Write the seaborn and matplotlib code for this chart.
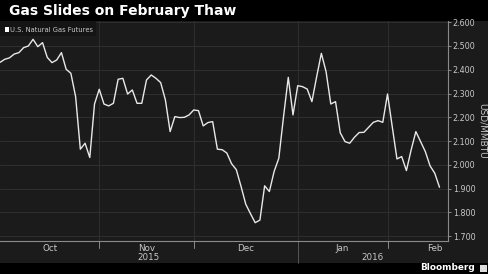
import matplotlib
matplotlib.use("Agg")
import matplotlib.pyplot as plt
import matplotlib.patches as mpatches
import seaborn as sns
import pandas as pd

# ---- data -------------------------------------------------------------
title = "Gas Slides on February Thaw"
series_name = "U.S. Natural Gas Futures"
y_label = "USD/MMBTU"
source = "Bloomberg"

holidays = ["2015-11-26", "2015-12-25", "2016-01-01", "2016-01-18", "2016-02-15"]
start_date = "2015-10-01"
end_date = "2016-02-16"

price = [
    2.431, 2.444, 2.450, 2.466, 2.472, 2.493, 2.500, 2.528, 2.497, 2.514,
    2.452, 2.430, 2.441, 2.472, 2.402, 2.385, 2.287, 2.066, 2.091, 2.031,
    2.256, 2.318, 2.256, 2.248, 2.259, 2.360, 2.364, 2.298, 2.315, 2.259,
    2.259, 2.357, 2.378, 2.364, 2.346, 2.273, 2.140, 2.203, 2.199, 2.200,
    2.210, 2.231, 2.228, 2.164, 2.178, 2.182, 2.066, 2.064, 2.050, 2.005,
    1.980, 1.910, 1.835, 1.795, 1.757, 1.768, 1.912, 1.888, 1.972, 2.028,
    2.203, 2.368, 2.210, 2.333, 2.329, 2.319, 2.266, 2.370, 2.469, 2.392,
    2.256, 2.266, 2.135, 2.098, 2.091, 2.116, 2.136, 2.137, 2.158, 2.179,
    2.186, 2.179, 2.298, 2.161, 2.025, 2.035, 1.976, 2.063, 2.140, 2.098,
    2.056, 1.996, 1.965, 1.906,
]
y_ticks = [1.7, 1.8, 1.9, 2.0, 2.1, 2.2, 2.3, 2.4, 2.5, 2.6]

# ---- build frame --------------------------------------------------------
dates = pd.bdate_range(start_date, end_date, freq="C", holidays=holidays)
n = min(len(dates), len(price))
df = pd.DataFrame({"date": dates[:n], "price": price[:n]})
df["pos"] = range(n)

# month boundaries (last trading day of each month) and label centres
full_days = pd.bdate_range("2015-10-01", "2016-02-29", freq="C", holidays=holidays)
month_key = full_days.to_period("M")
months = list(dict.fromkeys(month_key))
month_last = {m: max(i for i, k in enumerate(month_key) if k == m) for m in months}
month_first = {m: min(i for i, k in enumerate(month_key) if k == m) for m in months}

XMAX = 94.8
YMIN, YMAX = 1.68, 2.605

BG = "#1b1b1b"
GRID = "#2f2f2f"
TXT = "#c8c8c8"

sns.set_theme(style="dark")
plt.rcParams["font.family"] = ["DejaVu Sans"]

fig = plt.figure(figsize=(4.88, 2.74), dpi=100, facecolor="black")
W, H = 488, 274
# grey chart panel
fig.patches.append(mpatches.Rectangle((0, (H - 262.5) / H), 1, (262.5 - 21) / H,
                                      transform=fig.transFigure, facecolor=BG,
                                      edgecolor="none", zorder=-10))

ax = fig.add_axes([0, (H - 241) / H, 448 / W, (241 - 21) / H])
ax.set_zorder(1)
ax.set_facecolor(BG)

sns.lineplot(data=df, x="pos", y="price", ax=ax, color="#e8e8e8", linewidth=1.0,
             legend=False)

ax.set_xlim(0, XMAX)
ax.set_ylim(YMIN, YMAX)

# horizontal grid
ax.set_yticks(y_ticks)
ax.set_yticklabels([f"{v:.3f}" for v in y_ticks])
ax.grid(False)
for v in y_ticks:
    ax.axhline(v, color=GRID, lw=0.7, zorder=0)

# month boundaries
bounds = [month_last[m] for m in months[:-1]]
for b in bounds:
    ax.axvline(b, color=GRID, lw=0.7, zorder=0)

ax.yaxis.tick_right()
ax.yaxis.set_label_position("right")
ax.tick_params(axis="y", which="both", right=True, left=False, length=2.5,
               width=0.6, color="#9a9a9a", pad=1, labelsize=5.8, labelcolor=TXT)

# x ticks: month labels centred in months
centres = []
prev = -1
for m in months:
    last = month_last[m]
    centres.append((prev + last) / 2 if m != months[0] else (month_first[m] + last) / 2)
    prev = last
ax.set_xticks(centres)
ax.set_xticklabels([m.strftime("%b") for m in months])
ax.tick_params(axis="x", length=0, pad=2.5, labelsize=6.3, labelcolor=TXT)
ax.set_xlabel("")
ax.set_ylabel("")

for s in ["top", "left"]:
    ax.spines[s].set_visible(False)
for s in ["right", "bottom"]:
    ax.spines[s].set_visible(True)
    ax.spines[s].set_color("#8a8a8a")
    ax.spines[s].set_linewidth(0.8)

# small boundary ticks below axis
for b in bounds:
    ax.plot([b, b], [0, -0.03], transform=ax.get_xaxis_transform(), color="#8a8a8a",
            lw=0.7, clip_on=False)

# year labels and separator
years = sorted(set(m.year for m in months))
year_sep = month_last[[m for m in months if m.year == years[0]][-1]]
ax.plot([year_sep, year_sep], [0, -0.1], transform=ax.get_xaxis_transform(),
        color="#555555", lw=0.7, clip_on=False)
ax.text((0 + year_sep) / 2, -0.075, str(years[0]), transform=ax.get_xaxis_transform(),
        ha="center", va="center", fontsize=6.3, color=TXT)
ax.text((year_sep + XMAX) / 2, -0.075, str(years[1]), transform=ax.get_xaxis_transform(),
        ha="center", va="center", fontsize=6.3, color=TXT)

# y label
fig.text(482 / W, 1 - 131 / H, y_label, rotation=270, ha="center", va="center",
         fontsize=6.5, color=TXT)

# legend box
fig.patches.append(mpatches.Rectangle((0, 1 - 35.5 / H), 96 / W, 14.5 / H,
                                      transform=fig.transFigure, facecolor="#141414",
                                      edgecolor="none", zorder=5))
fig.patches.append(mpatches.Rectangle((4.7 / W, 1 - 32 / H), 4.3 / W, 4.6 / H,
                                      transform=fig.transFigure, facecolor="white",
                                      edgecolor="none", zorder=6))
fig.text(10.5 / W, 1 - 29.5 / H, series_name, ha="left", va="center", fontsize=4.9,
         color=TXT, zorder=7)

# title
fig.text(9 / W, 1 - 11.5 / H, title, ha="left", va="center", fontsize=10,
         fontweight="bold", color="white")

# source
fig.text(475 / W, 1 - 268 / H, source, ha="right", va="center", fontsize=6.4,
         fontweight="bold", color="white")
fig.patches.append(mpatches.Rectangle((480 / W, 1 - 272 / H), 7 / W, 7 / H,
                                      transform=fig.transFigure, facecolor="#dddddd",
                                      edgecolor="none"))

fig.savefig("out.png", dpi=100, facecolor="black")
